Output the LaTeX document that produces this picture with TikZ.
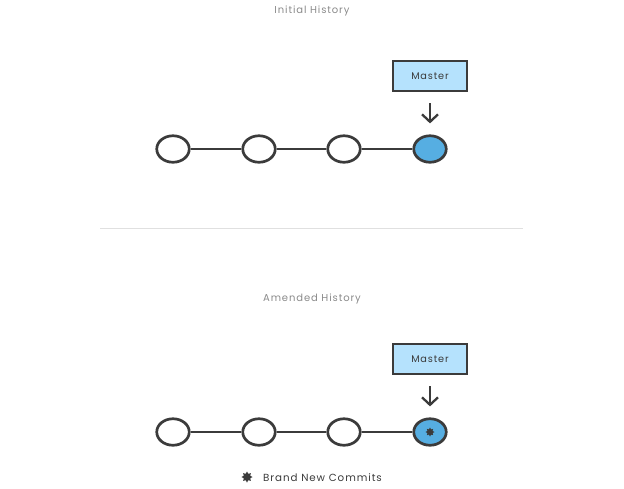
\documentclass[tikz,border=0pt]{standalone}
\usepackage{fontspec}
\setmainfont{Poppins}
\newfontfamily\widefont[LetterSpace=9]{Poppins}
\usetikzlibrary{shapes.geometric,arrows.meta}
\definecolor{ink}{HTML}{3B3B3B}
\definecolor{boxblue}{HTML}{B5E2FD}
\definecolor{nodeblue}{HTML}{56AEE2}
\definecolor{titlegrey}{HTML}{8A8A8A}
\tikzset{
  commit/.style={ellipse, draw=ink, line width=2.7pt, fill=white, minimum width=32.5pt, minimum height=26.5pt, inner sep=0pt},
  headcommit/.style={commit, fill=nodeblue},
  branchbox/.style={rectangle, draw=ink, line width=2.7pt, fill=boxblue, minimum width=74pt, minimum height=30pt, inner sep=0pt, font=\widefont\fontsize{9.7}{11}\selectfont, text=ink},
  link/.style={draw=ink, line width=2.7pt},
  pointer/.style={draw=ink, line width=2.3pt, -{Straight Barb[length=7.5pt,width=16pt,line width=2.3pt]}},
  title/.style={font=\widefont\fontsize{10}{11}\selectfont, text=titlegrey},
  newmark/.style={star, star points=8, star point ratio=1.6, fill=ink, minimum size=9pt, inner sep=0pt},
}
\begin{document}
\begin{tikzpicture}[x=1pt,y=-1pt]
\useasboundingbox (0,0) rectangle (624,488);
% top
\node[title] (t1) at (312,11) {Initial History};
\node[commit] (a1) at (173,149) {};
\node[commit] (a2) at (259,149) {};
\node[commit] (a3) at (344,149) {};
\node[headcommit] (a4) at (430,149) {};
\draw[link] (a1) -- (a2);
\draw[link] (a2) -- (a3);
\draw[link] (a3) -- (a4);
\node[branchbox] (m1) at (430,76) {Master};
\draw[pointer, shorten <=11pt, shorten >=11pt] (m1.south) -- (a4.north);
% divider
\coordinate (d1) at (100,228);
\coordinate (d2) at (523,228);
\draw[draw=black!12, line width=0.8pt] (d1) -- (d2);
% bottom
\node[title] (t2) at (312,299) {Amended History};
\node[commit] (b1) at (173,432) {};
\node[commit] (b2) at (259,432) {};
\node[commit] (b3) at (344,432) {};
\node[headcommit] (b4) at (430,432) {};
\node[newmark] (s4) at (430,432) {};
\draw[link] (b1) -- (b2);
\draw[link] (b2) -- (b3);
\draw[link] (b3) -- (b4);
\node[branchbox] (m2) at (430,359) {Master};
\draw[pointer, shorten <=11pt, shorten >=11pt] (m2.south) -- (b4.north);
% legend
\node[newmark, minimum size=11pt] (ls) at (247,477) {};
\node[anchor=west, inner sep=0pt, font=\widefont\fontsize{10.3}{11}\selectfont, text=ink] (lt) at (263,477.5) {Brand New Commits};
\end{tikzpicture}
\end{document}
